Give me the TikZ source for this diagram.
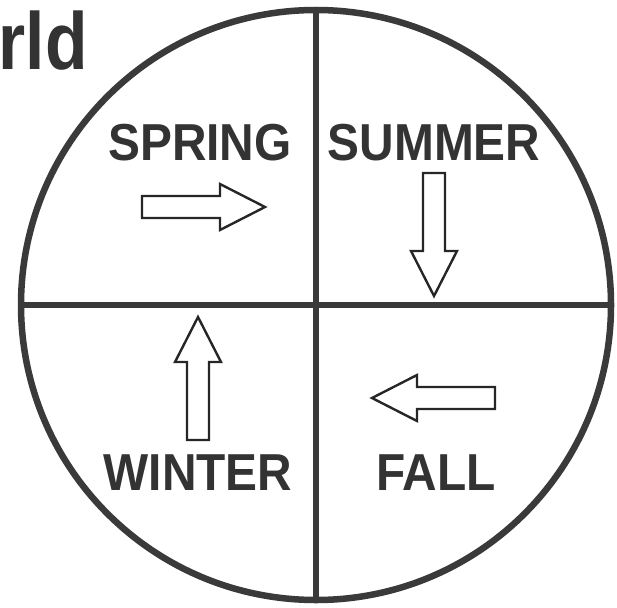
\documentclass[tikz,border=0pt]{standalone}
\usepackage{fontspec}
\setmainfont{Liberation Sans}
\usepackage{tikz}
\definecolor{inkgray}{HTML}{333333}
\definecolor{rimgray}{HTML}{3A3A3A}

\begin{document}
\begin{tikzpicture}[
  x=1pt, y=-1pt,
  season/.style={inner sep=0pt, anchor=base, text=inkgray,
                 font=\fontsize{52}{60}\selectfont\bfseries},
  divider/.style={draw=rimgray, line width=6.5pt},
  hollow/.style={draw=black!85, line width=2.4pt, fill=white, line join=miter},
  seasonarrow/.pic={
    \path[hollow] (0,-11) -- (78,-11) -- (78,-23) -- (123,0)
                  -- (78,23) -- (78,11) -- (0,11) -- cycle;
  },
]
  \useasboundingbox (0,0) rectangle (617,607);

  % title fragment
  \node[inner sep=0pt, anchor=base east, text=inkgray,
        font=\fontsize{81}{90}\selectfont\bfseries] (title) at (88,70)
    {\scalebox{0.86}[1]{rld}};

  % the year wheel
  \node[circle, divider, fill=none, minimum size=590pt, inner sep=0pt]
    (wheel) at (316,305) {};
  \draw[divider] (wheel.north) -- (wheel.south);
  \draw[divider] (wheel.west)  -- (wheel.east);

  \node[season] (spring) at (200,160) {\scalebox{0.92}[1]{SPRING}};
  \node[season] (summer) at (434,160) {\scalebox{0.92}[1]{SUMMER}};
  \node[season] (winter) at (198,490) {\scalebox{0.92}[1]{WINTER}};
  \node[season] (fall)   at (436,490) {\scalebox{0.92}[1]{FALL}};

  % turning arrows
  \pic at (142,207) {seasonarrow};
  \pic[rotate=-90] at (434,173) {seasonarrow};
  \pic[rotate=90]  at (198,440) {seasonarrow};
  \pic[rotate=180] at (495,398) {seasonarrow};
\end{tikzpicture}
\end{document}
